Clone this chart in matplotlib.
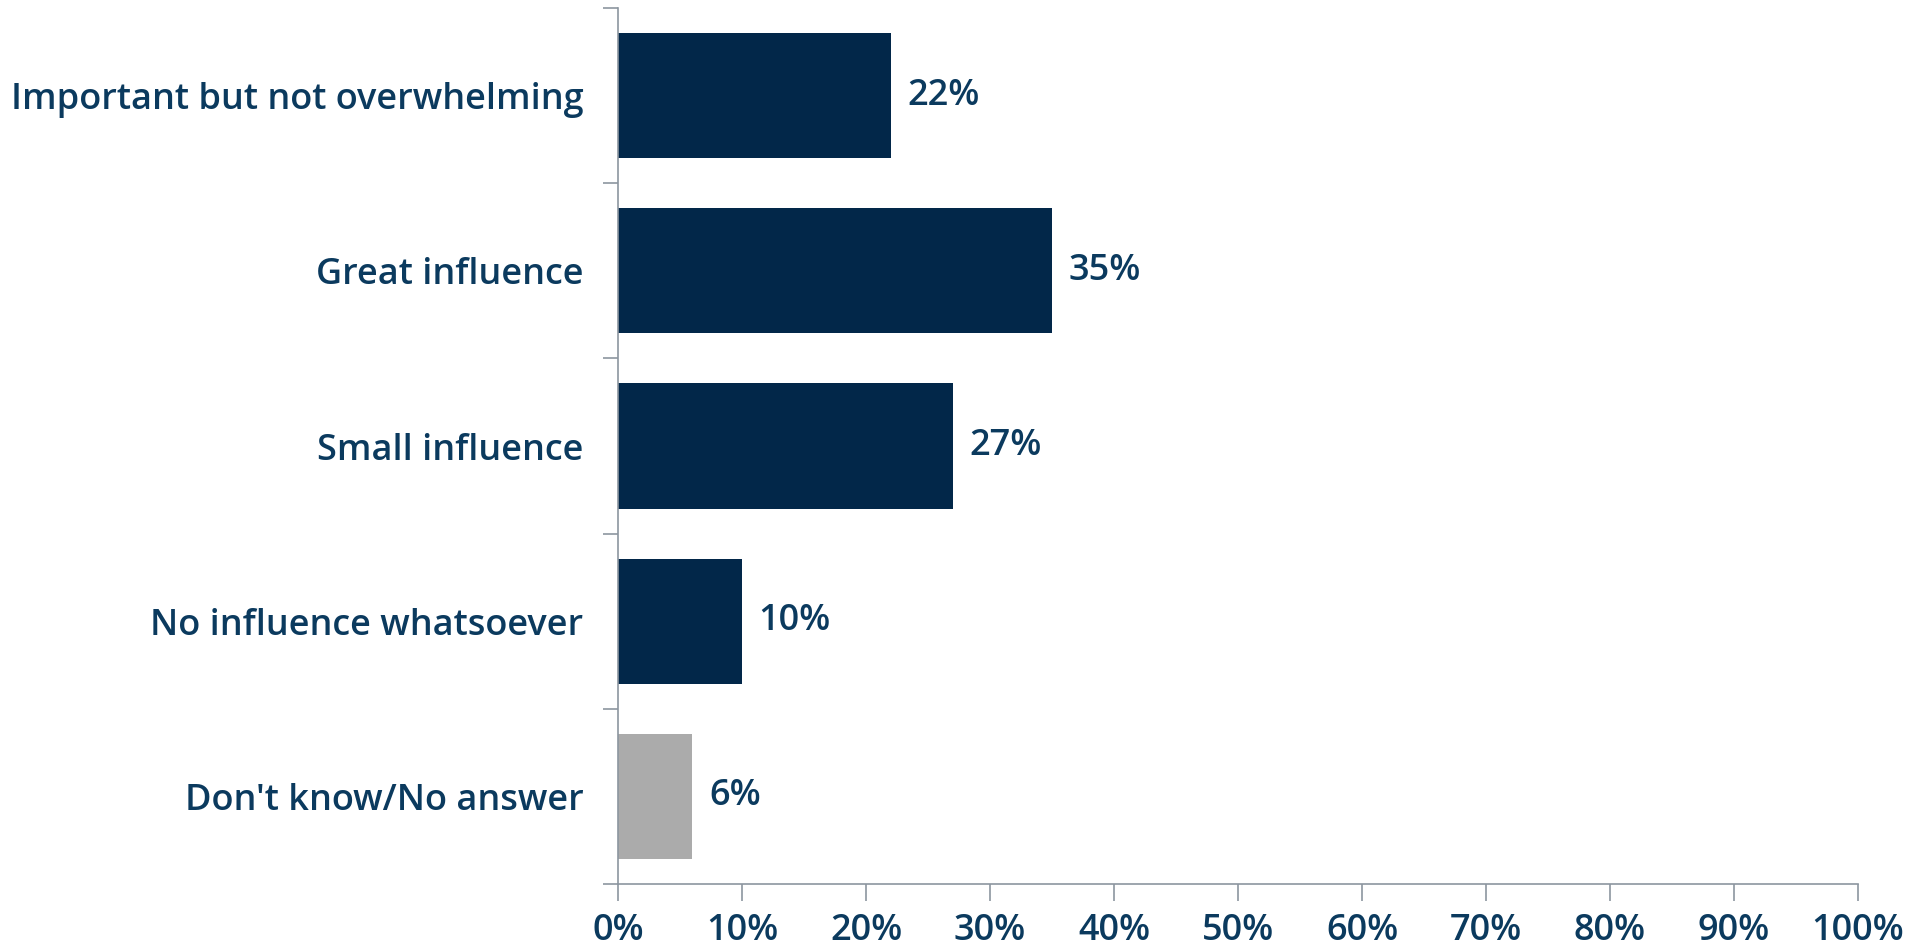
import matplotlib
matplotlib.use("Agg")
import matplotlib.pyplot as plt
import numpy as np

# datos
categorias = ["Important but not overwhelming", "Great influence", "Small influence",
              "No influence whatsoever", "Don't know/No answer"]
valores = [22, 35, 27, 10, 6]
colores = ["#022749", "#022749", "#022749", "#022749", "#ababab"]
ticks_x = [0, 10, 20, 30, 40, 50, 60, 70, 80, 90, 100]

color_texto = "#0b3a5e"
color_eje = "#8c96a0"
tam = 26

plt.rcParams["font.family"] = ["Open Sans", "DejaVu Sans"]

fig = plt.figure(figsize=(19.11, 9.46), dpi=100)
ax = fig.add_axes([0.3234, 0.0655, 0.6489, 0.926])

pos = np.arange(len(categorias))
ax.barh(pos, valores, height=0.714, color=colores)

# etiquetas de valor
for p, v in zip(pos, valores):
    ax.text(v + 1.35, p, f"{v}%", va="center", ha="left", fontsize=tam,
            fontweight="semibold", color=color_texto)

ax.set_xlim(0, 100)
ax.set_ylim(len(categorias) - 0.5, -0.5)

ax.set_yticks(pos)
ax.set_yticklabels(categorias)
ax.set_yticks(np.arange(len(categorias) + 1) - 0.5, minor=True)
ax.tick_params(axis="y", which="major", length=0, pad=25, labelsize=tam, labelcolor=color_texto)
ax.tick_params(axis="y", which="minor", length=11, color=color_eje, width=1.2)

ax.set_xticks(ticks_x)
ax.set_xticklabels([f"{t}%" for t in ticks_x])
ax.tick_params(axis="x", length=12, color=color_eje, width=1.2, pad=9,
               labelsize=tam, labelcolor=color_texto)

for lbl in ax.get_xticklabels() + ax.get_yticklabels():
    lbl.set_fontweight("semibold")

for s in ["top", "right"]:
    ax.spines[s].set_visible(False)
for s in ["left", "bottom"]:
    ax.spines[s].set_color(color_eje)
    ax.spines[s].set_linewidth(1.2)

fig.savefig("out.png", dpi=100)
